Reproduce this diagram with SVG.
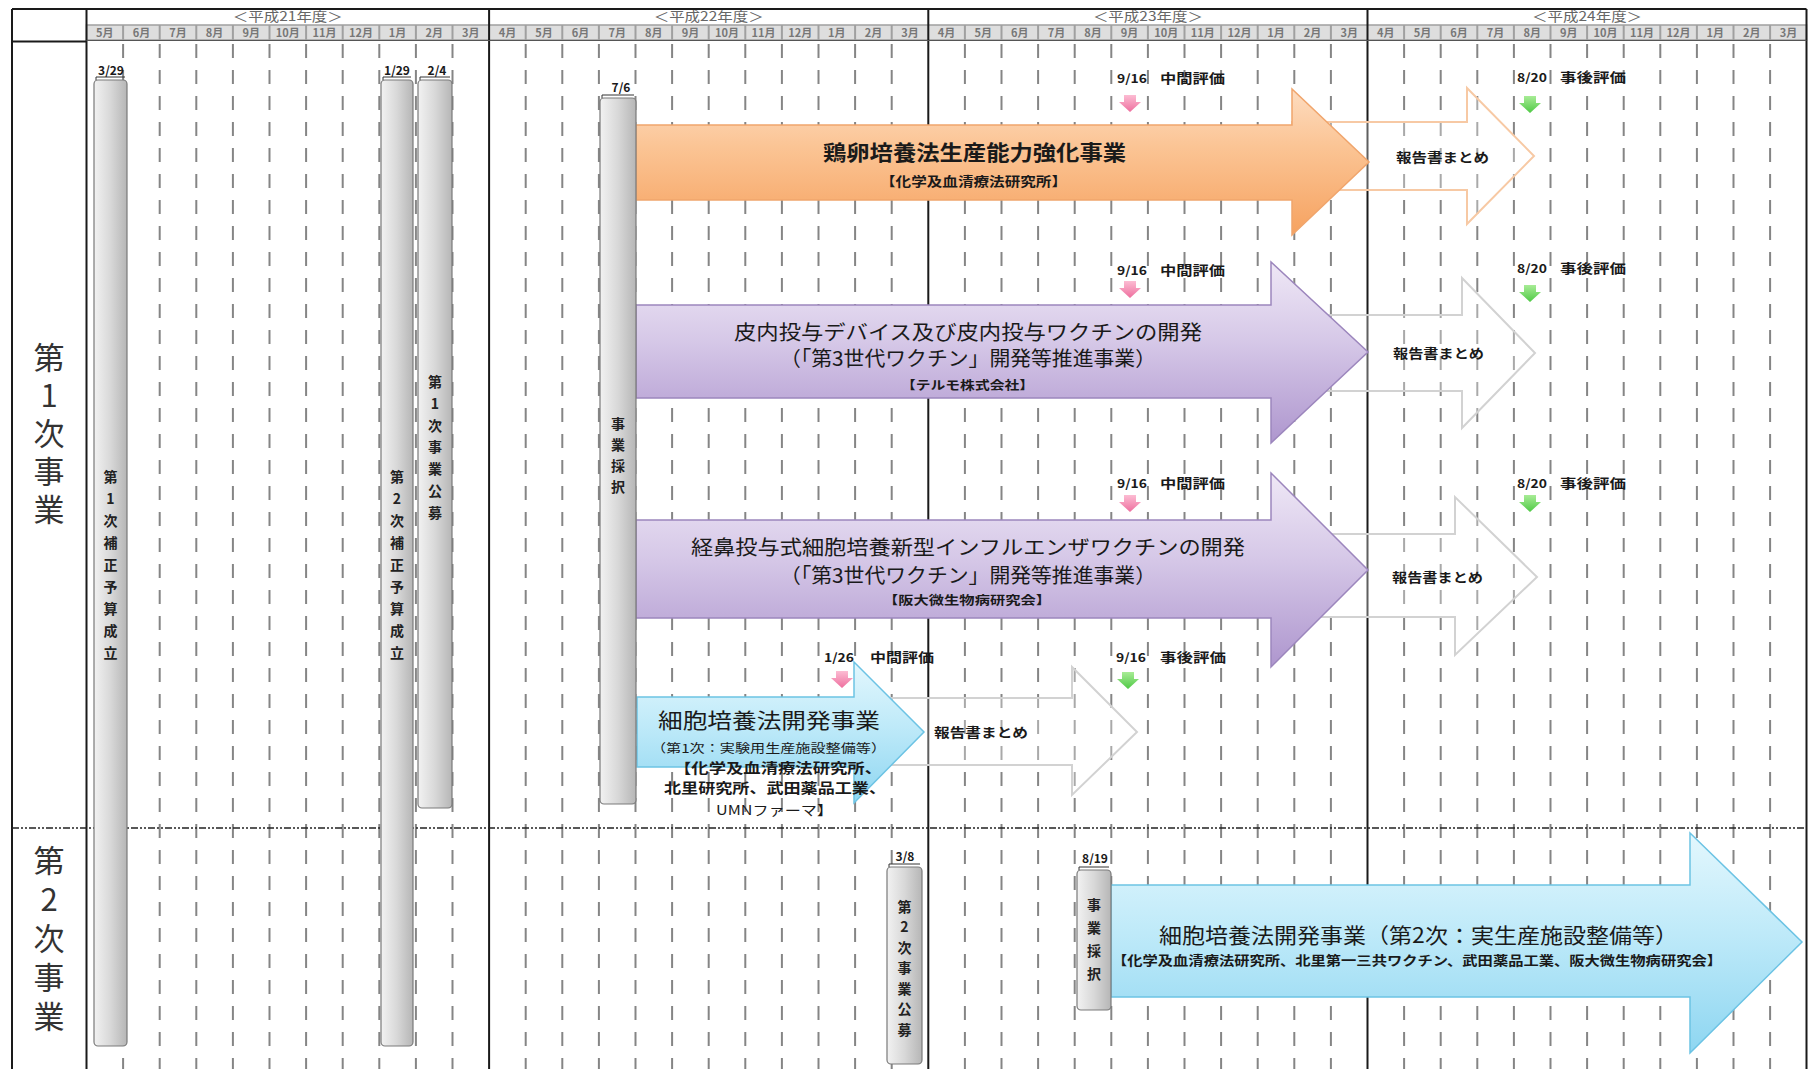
<svg xmlns="http://www.w3.org/2000/svg" xmlns:xlink="http://www.w3.org/1999/xlink" width="1813" height="1069" viewBox="0 0 1813 1069">
<style>
.t{font-family:"Noto Sans CJK JP","Noto Sans",sans-serif;fill:#1a1a1a}
.b{font-weight:bold}
.mid{text-anchor:middle}
.dash{stroke:#858585;stroke-width:2;stroke-dasharray:14 12;fill:none}
.frame{stroke:#1a1a1a;stroke-width:2;fill:none}
.bar{fill:url(#barG);stroke:#7a7a7a;stroke-width:1.2}
.outl{fill:#fff;fill-opacity:.3;stroke:#d2d2d2;stroke-width:2}
.bt{font-size:14px;font-weight:bold;text-anchor:middle;fill:#222}
.date{font-size:12px;font-weight:bold;text-anchor:middle}
.ev{font-size:12px;font-weight:bold}
.evl{font-size:13px;font-weight:bold}
.mon{font-size:11px;font-weight:bold;fill:#777;text-anchor:middle}
.yr{font-size:13px;fill:#666;text-anchor:middle}
.big{font-size:31px;fill:#333;writing-mode:vertical-rl;text-orientation:upright}
.rep{font-size:13px;font-weight:bold;text-anchor:middle}
</style>
<defs>
<linearGradient id="barG" x1="0" y1="0" x2="1" y2="0">
<stop offset="0" stop-color="#f2f2f2"/><stop offset="0.5" stop-color="#d8d8d8"/><stop offset="1" stop-color="#b6b6b6"/>
</linearGradient>
<linearGradient id="orG" x1="0" y1="0" x2="0" y2="1">
<stop offset="0" stop-color="#fddcc0"/><stop offset="0.4" stop-color="#fbc494"/><stop offset="1" stop-color="#f6a260"/>
</linearGradient>
<linearGradient id="puG" x1="0" y1="0" x2="0" y2="1">
<stop offset="0" stop-color="#efe8f6"/><stop offset="0.45" stop-color="#d5c7e7"/><stop offset="1" stop-color="#ae96ce"/>
</linearGradient>
<linearGradient id="cyG" x1="0" y1="0" x2="0" y2="1">
<stop offset="0" stop-color="#e3f7fd"/><stop offset="0.45" stop-color="#bfeaf9"/><stop offset="1" stop-color="#8ed6f1"/>
</linearGradient>
<linearGradient id="pkG" x1="0" y1="0" x2="0" y2="1">
<stop offset="0" stop-color="#fcbcd3"/><stop offset="1" stop-color="#ee6f9e"/>
</linearGradient>
<linearGradient id="gnG" x1="0" y1="0" x2="0" y2="1">
<stop offset="0" stop-color="#a8ec96"/><stop offset="1" stop-color="#4fc945"/>
</linearGradient>
<path id="darr" d="M-6 0H6V7H11L0 17L-11 7H-6Z"/>
</defs>
<rect width="1813" height="1069" fill="#fff"/>

<g id="header">
<rect x="86.5" y="25" width="1720" height="15" fill="#dedede" stroke="#a0a0a0" stroke-width="1.5"/>
<path d="M123.1 25V40M159.7 25V40M196.3 25V40M232.9 25V40M269.5 25V40M306.1 25V40M342.7 25V40M379.3 25V40M415.9 25V40M452.5 25V40M525.7 25V40M562.3 25V40M598.9 25V40M635.5 25V40M672.1 25V40M708.7 25V40M745.3 25V40M781.9 25V40M818.5 25V40M855.1 25V40M891.7 25V40M964.9 25V40M1001.5 25V40M1038.1 25V40M1074.7 25V40M1111.3 25V40M1147.9 25V40M1184.5 25V40M1221.1 25V40M1257.7 25V40M1294.3 25V40M1330.9 25V40M1404.1 25V40M1440.7 25V40M1477.3 25V40M1513.9 25V40M1550.5 25V40M1587.1 25V40M1623.7 25V40M1660.3 25V40M1696.9 25V40M1733.5 25V40M1770.1 25V40" stroke="#a0a0a0" stroke-width="2"/>
<text class="t yr" x="287.8" y="21" textLength="110" lengthAdjust="spacingAndGlyphs">＜平成21年度＞</text>
<text class="t yr" x="708.7" y="21" textLength="110" lengthAdjust="spacingAndGlyphs">＜平成22年度＞</text>
<text class="t yr" x="1147.9" y="21" textLength="110" lengthAdjust="spacingAndGlyphs">＜平成23年度＞</text>
<text class="t yr" x="1587.1" y="21" textLength="110" lengthAdjust="spacingAndGlyphs">＜平成24年度＞</text>
<g class="t mon">
<text x="104.8" y="37">5月</text><text x="141.4" y="37">6月</text><text x="178" y="37">7月</text><text x="214.6" y="37">8月</text><text x="251.2" y="37">9月</text><text x="287.8" y="37">10月</text><text x="324.4" y="37">11月</text><text x="361" y="37">12月</text><text x="397.6" y="37">1月</text><text x="434.2" y="37">2月</text><text x="470.8" y="37">3月</text>
<text x="507.4" y="37">4月</text><text x="544" y="37">5月</text><text x="580.6" y="37">6月</text><text x="617.2" y="37">7月</text><text x="653.8" y="37">8月</text><text x="690.4" y="37">9月</text><text x="727" y="37">10月</text><text x="763.6" y="37">11月</text><text x="800.2" y="37">12月</text><text x="836.8" y="37">1月</text><text x="873.4" y="37">2月</text><text x="910" y="37">3月</text>
<text x="946.6" y="37">4月</text><text x="983.2" y="37">5月</text><text x="1019.8" y="37">6月</text><text x="1056.4" y="37">7月</text><text x="1093" y="37">8月</text><text x="1129.6" y="37">9月</text><text x="1166.2" y="37">10月</text><text x="1202.8" y="37">11月</text><text x="1239.4" y="37">12月</text><text x="1276" y="37">1月</text><text x="1312.6" y="37">2月</text><text x="1349.2" y="37">3月</text>
<text x="1385.8" y="37">4月</text><text x="1422.4" y="37">5月</text><text x="1459" y="37">6月</text><text x="1495.6" y="37">7月</text><text x="1532.2" y="37">8月</text><text x="1568.8" y="37">9月</text><text x="1605.4" y="37">10月</text><text x="1642" y="37">11月</text><text x="1678.6" y="37">12月</text><text x="1715.2" y="37">1月</text><text x="1751.8" y="37">2月</text><text x="1788.4" y="37">3月</text>
</g>
</g>

<g id="grid">
<path class="dash" d="M123.1 44V1069M159.7 44V1069M196.3 44V1069M232.9 44V1069M269.5 44V1069M306.1 44V1069M342.7 44V1069M379.3 44V1069M415.9 44V1069M452.5 44V1069M525.7 44V1069M562.3 44V1069M598.9 44V1069M635.5 44V1069M672.1 44V1069M708.7 44V1069M745.3 44V1069M781.9 44V1069M818.5 44V1069M855.1 44V1069M891.7 44V1069M964.9 44V1069M1001.5 44V1069M1038.1 44V1069M1074.7 44V1069M1111.3 44V1069M1147.9 44V1069M1184.5 44V1069M1221.1 44V1069M1257.7 44V1069M1294.3 44V1069M1330.9 44V1069M1404.1 44V1069M1440.7 44V1069M1477.3 44V1069M1513.9 44V1069M1550.5 44V1069M1587.1 44V1069M1623.7 44V1069M1660.3 44V1069M1696.9 44V1069M1733.5 44V1069M1770.1 44V1069"/>
<path class="frame" d="M12 9H1806.5M12 9V1069M86.5 9V1069M489.1 9V1069M928.3 9V1069M1367.5 9V1069M1806.5 9V1069M12 41.5H86.5"/>
<path d="M86.5 40.5H1806.5" stroke="#555" stroke-width="1"/>
<path d="M12 828H1806.5" stroke="#222" stroke-width="1.6" stroke-dasharray="7 2 2 2 2 2" fill="none"/>
</g>

<g id="connectors"></g>

<g id="report-1">
<polygon class="outl" style="stroke:#f7c9a4" points="1292,122 1467,122 1467,88 1534,156 1467,224 1467,190 1292,190"/>
<text class="t rep" x="1442.5" y="162" textLength="93" lengthAdjust="spacingAndGlyphs">報告書まとめ</text>
</g>
<g id="report-2">
<polygon class="outl" points="1271,315 1462,315 1462,278 1535,353 1462,428 1462,391 1271,391"/>
<text class="t rep" x="1438.5" y="358" textLength="91" lengthAdjust="spacingAndGlyphs">報告書まとめ</text>
</g>
<g id="report-3">
<polygon class="outl" points="1271,534 1455,534 1455,497 1537,577 1455,655 1455,617 1271,617"/>
<text class="t rep" x="1437.5" y="582" textLength="91" lengthAdjust="spacingAndGlyphs">報告書まとめ</text>
</g>
<g id="report-4">
<polygon class="outl" points="854,698 1072,698 1072,667 1137,732 1072,795 1072,765 854,765"/>
<text class="t rep" x="981" y="737" textLength="94" lengthAdjust="spacingAndGlyphs">報告書まとめ</text>
</g>

<g id="project-egg">
<polygon points="636,125 1292,125 1292,89 1369,162 1292,235 1292,200 636,200" fill="url(#orG)" stroke="#f0a56c" stroke-width="1.5"/>
<text class="t b mid" x="974.5" y="160" font-size="21" textLength="303" lengthAdjust="spacingAndGlyphs">鶏卵培養法生産能力強化事業</text>
<text class="t b mid" x="973.5" y="186" font-size="13" textLength="187" lengthAdjust="spacingAndGlyphs">【化学及血清療法研究所】</text>
</g>
<g id="project-intradermal">
<polygon points="636,305 1271,305 1271,262 1368,352 1271,443 1271,398 636,398" fill="url(#puG)" stroke="#9c86bd" stroke-width="1.5"/>
<text class="t mid" x="968" y="340" font-size="20" textLength="468" lengthAdjust="spacingAndGlyphs">皮内投与デバイス及び皮内投与ワクチンの開発</text>
<text class="t mid" x="968" y="366" font-size="20" textLength="376" lengthAdjust="spacingAndGlyphs">（「第3世代ワクチン」開発等推進事業）</text>
<text class="t b mid" x="967.5" y="390" font-size="12" textLength="133" lengthAdjust="spacingAndGlyphs">【テルモ株式会社】</text>
</g>
<g id="project-nasal">
<polygon points="636,520 1271,520 1271,473 1368,570 1271,667 1271,618 636,618" fill="url(#puG)" stroke="#9c86bd" stroke-width="1.5"/>
<text class="t mid" x="968" y="555" font-size="20" textLength="554" lengthAdjust="spacingAndGlyphs">経鼻投与式細胞培養新型インフルエンザワクチンの開発</text>
<text class="t mid" x="968" y="583" font-size="20" textLength="376" lengthAdjust="spacingAndGlyphs">（「第3世代ワクチン」開発等推進事業）</text>
<text class="t b mid" x="967" y="605" font-size="12" textLength="168" lengthAdjust="spacingAndGlyphs">【阪大微生物病研究会】</text>
</g>
<g id="project-cell-1">
<polygon points="637,697 854,697 854,662 924,732 854,803 854,767 637,767" fill="url(#cyG)" stroke="#6cc3e4" stroke-width="1.5"/>
<text class="t mid" x="769" y="728" font-size="21" textLength="222" lengthAdjust="spacingAndGlyphs">細胞培養法開発事業</text>
<text class="t mid" x="768.5" y="753" font-size="12" textLength="235" lengthAdjust="spacingAndGlyphs">（第1次：実験用生産施設整備等）</text>
<text class="t b mid" x="778" y="773" font-size="14" textLength="208" lengthAdjust="spacingAndGlyphs">【化学及血清療法研究所、</text>
<text class="t b mid" x="775" y="793" font-size="14" textLength="222" lengthAdjust="spacingAndGlyphs">北里研究所、武田薬品工業、</text>
<text class="t mid" x="774.5" y="815" font-size="13" textLength="117" lengthAdjust="spacingAndGlyphs">UMNファーマ】</text>
</g>
<g id="project-cell-2">
<polygon points="1111,885 1690,885 1690,833 1802,942 1690,1053 1690,997 1111,997" fill="url(#cyG)" stroke="#6cc3e4" stroke-width="1.5"/>
<text class="t mid" x="1418.5" y="943" font-size="21" textLength="519" lengthAdjust="spacingAndGlyphs">細胞培養法開発事業（第2次：実生産施設整備等）</text>
<text class="t b mid" x="1417" y="965" font-size="13" textLength="610" lengthAdjust="spacingAndGlyphs">【化学及血清療法研究所、北里第一三共ワクチン、武田薬品工業、阪大微生物病研究会】</text>
</g>

<g id="eval-egg-mid">
<text class="t ev" x="1117" y="83" textLength="30" lengthAdjust="spacingAndGlyphs">9/16</text><text class="t evl" x="1160" y="83" textLength="65" lengthAdjust="spacingAndGlyphs">中間評価</text>
<use xlink:href="#darr" x="1130" y="95" fill="url(#pkG)"/>
</g>
<g id="eval-egg-post">
<text class="t ev" x="1517" y="82" textLength="30" lengthAdjust="spacingAndGlyphs">8/20</text><text class="t evl" x="1560" y="82" textLength="66" lengthAdjust="spacingAndGlyphs">事後評価</text>
<use xlink:href="#darr" x="1530" y="96" fill="url(#gnG)"/>
</g>
<g id="eval-intradermal-mid">
<text class="t ev" x="1117" y="275" textLength="30" lengthAdjust="spacingAndGlyphs">9/16</text><text class="t evl" x="1160" y="275" textLength="65" lengthAdjust="spacingAndGlyphs">中間評価</text>
<use xlink:href="#darr" x="1130" y="281" fill="url(#pkG)"/>
</g>
<g id="eval-intradermal-post">
<text class="t ev" x="1517" y="273" textLength="30" lengthAdjust="spacingAndGlyphs">8/20</text><text class="t evl" x="1560" y="273" textLength="66" lengthAdjust="spacingAndGlyphs">事後評価</text>
<use xlink:href="#darr" x="1530" y="285" fill="url(#gnG)"/>
</g>
<g id="eval-nasal-mid">
<text class="t ev" x="1117" y="488" textLength="30" lengthAdjust="spacingAndGlyphs">9/16</text><text class="t evl" x="1160" y="488" textLength="65" lengthAdjust="spacingAndGlyphs">中間評価</text>
<use xlink:href="#darr" x="1130" y="495" fill="url(#pkG)"/>
</g>
<g id="eval-nasal-post">
<text class="t ev" x="1517" y="488" textLength="30" lengthAdjust="spacingAndGlyphs">8/20</text><text class="t evl" x="1560" y="488" textLength="66" lengthAdjust="spacingAndGlyphs">事後評価</text>
<use xlink:href="#darr" x="1530" y="495" fill="url(#gnG)"/>
</g>
<g id="eval-cell-mid">
<text class="t ev" x="824" y="662" textLength="30" lengthAdjust="spacingAndGlyphs">1/26</text><text class="t evl" x="870" y="662" textLength="64" lengthAdjust="spacingAndGlyphs">中間評価</text>
<use xlink:href="#darr" x="842" y="671" fill="url(#pkG)"/>
</g>
<g id="eval-cell-post">
<text class="t ev" x="1116" y="662" textLength="30" lengthAdjust="spacingAndGlyphs">9/16</text><text class="t evl" x="1160" y="662" textLength="66" lengthAdjust="spacingAndGlyphs">事後評価</text>
<use xlink:href="#darr" x="1128" y="672" fill="url(#gnG)"/>
</g>

<g id="bar-budget1">
<rect class="bar" x="94" y="80" width="33" height="966" rx="4"/>
<path d="M96 77H125M96 77V80" stroke="#333" stroke-width="1" fill="none"/>
<text class="t date" x="111" y="75">3/29</text>
<text class="t bt"><tspan x="110.5" y="482">第</tspan><tspan x="110.5" y="504">1</tspan><tspan x="110.5" y="526">次</tspan><tspan x="110.5" y="548">補</tspan><tspan x="110.5" y="570">正</tspan><tspan x="110.5" y="592">予</tspan><tspan x="110.5" y="614">算</tspan><tspan x="110.5" y="636">成</tspan><tspan x="110.5" y="658">立</tspan></text>
</g>
<g id="bar-budget2">
<rect class="bar" x="381" y="80" width="32" height="966" rx="4"/>
<path d="M383 77H411M383 77V80" stroke="#333" stroke-width="1" fill="none"/>
<text class="t date" x="397" y="75">1/29</text>
<text class="t bt"><tspan x="397" y="482">第</tspan><tspan x="397" y="504">2</tspan><tspan x="397" y="526">次</tspan><tspan x="397" y="548">補</tspan><tspan x="397" y="570">正</tspan><tspan x="397" y="592">予</tspan><tspan x="397" y="614">算</tspan><tspan x="397" y="636">成</tspan><tspan x="397" y="658">立</tspan></text>
</g>
<g id="bar-call1">
<rect class="bar" x="418" y="80" width="34" height="728" rx="4"/>
<path d="M420 77H450M420 77V80" stroke="#333" stroke-width="1" fill="none"/>
<text class="t date" x="437" y="75">2/4</text>
<text class="t bt"><tspan x="435" y="387">第</tspan><tspan x="435" y="409">1</tspan><tspan x="435" y="431">次</tspan><tspan x="435" y="452">事</tspan><tspan x="435" y="474">業</tspan><tspan x="435" y="496">公</tspan><tspan x="435" y="518">募</tspan></text>
</g>
<g id="bar-select1">
<rect class="bar" x="600" y="98" width="36" height="706" rx="4"/>
<path d="M602 95H634M602 95V98" stroke="#333" stroke-width="1" fill="none"/>
<text class="t date" x="621" y="92">7/6</text>
<text class="t bt"><tspan x="618" y="429">事</tspan><tspan x="618" y="450">業</tspan><tspan x="618" y="471">採</tspan><tspan x="618" y="492">択</tspan></text>
</g>
<g id="bar-call2">
<rect class="bar" x="887" y="867" width="35" height="197" rx="4"/>
<path d="M889 864H920M889 864V867" stroke="#333" stroke-width="1" fill="none"/>
<text class="t date" x="905" y="861">3/8</text>
<text class="t bt"><tspan x="904.5" y="912">第</tspan><tspan x="904.5" y="932">2</tspan><tspan x="904.5" y="953">次</tspan><tspan x="904.5" y="973">事</tspan><tspan x="904.5" y="994">業</tspan><tspan x="904.5" y="1014">公</tspan><tspan x="904.5" y="1035">募</tspan></text>
</g>
<g id="bar-select2">
<rect class="bar" x="1077" y="870" width="34" height="140" rx="4"/>
<path d="M1079 867H1109M1079 867V870" stroke="#333" stroke-width="1" fill="none"/>
<text class="t date" x="1095" y="863">8/19</text>
<text class="t bt"><tspan x="1094" y="910">事</tspan><tspan x="1094" y="933">業</tspan><tspan x="1094" y="956">採</tspan><tspan x="1094" y="979">択</tspan></text>
</g>

<g id="label-phase1">
<text class="t big" x="49" y="342" letter-spacing="7">第1次事業</text>
</g>
<g id="label-phase2">
<text class="t big" x="49" y="845" letter-spacing="8">第2次事業</text>
</g>
</svg>
